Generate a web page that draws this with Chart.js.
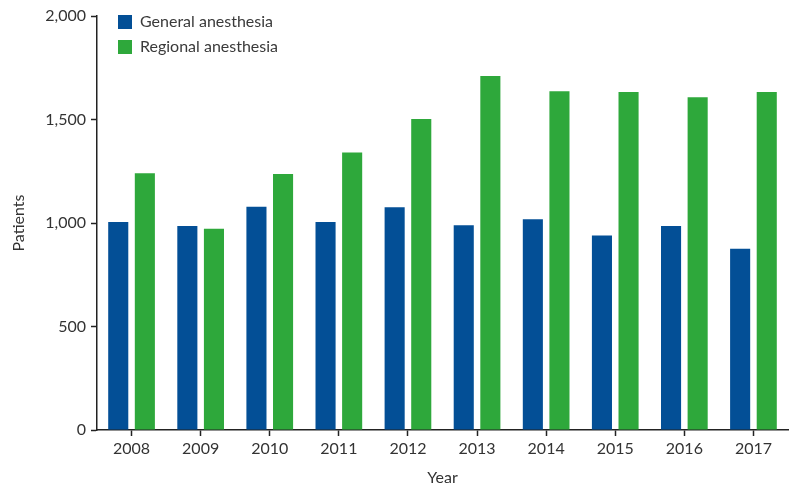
<!DOCTYPE html>
<html>
<head>
<meta charset="utf-8">
<script src="https://cdn.jsdelivr.net/npm/chart.js@4"></script>
<style>
  html, body { margin: 0; padding: 0; background: #fff; }
  #wrap { width: 800px; height: 492px; }
</style>
</head>
<body>
<div id="wrap"><canvas id="chart"></canvas></div>
<script>
const years = ["2008", "2009", "2010", "2011", "2012", "2013", "2014", "2015", "2016", "2017"];
const generalAnesthesia = [1005, 985, 1079, 1005, 1076, 989, 1018, 940, 985, 876];
const regionalAnesthesia = [1240, 972, 1237, 1340, 1502, 1710, 1636, 1633, 1607, 1633];

const FONT = "Lato, 'Noto Sans', sans-serif";
const INK = "#333";

// nudge the in-plot legend to where the original sits
const legendNudge = {
  id: "legendNudge",
  afterLayout(chart) {
    const lg = chart.legend;
    if (!lg) return;
    lg.left += 12; lg.right += 12;
    lg.top += 5; lg.bottom += 5;
  }
};

new Chart(document.getElementById("chart"), {
  type: "bar",
  data: {
    labels: years,
    datasets: [
      { label: "General anesthesia", data: generalAnesthesia, backgroundColor: "#034f96" },
      { label: "Regional anesthesia", data: regionalAnesthesia, backgroundColor: "#2ea83b" }
    ]
  },
  options: {
    responsive: true,
    maintainAspectRatio: false,
    animation: false,
    datasets: { bar: { categoryPercentage: 0.77, barPercentage: 0.755 } },
    layout: { padding: { top: 16, right: 12, left: 0, bottom: 0 } },
    plugins: {
      tooltip: { enabled: false },
      legend: {
        position: "chartArea",
        align: "start",
        labels: {
          boxWidth: 14, boxHeight: 14, padding: 9,
          color: "#3a3a3a",
          font: { family: FONT, size: 16 }
        }
      }
    },
    scales: {
      x: {
        afterFit(s) { s.height = 62; },
        grid: { offset: false, drawOnChartArea: false, tickLength: 6, color: "#222", tickWidth: 1.5 },
        border: { color: "#222", width: 1.5 },
        ticks: { color: INK, padding: 3, font: { family: FONT, size: 16 } },
        title: { display: true, text: "Year", color: INK, padding: { top: 6, bottom: 5 },
                 font: { family: FONT, size: 16 } }
      },
      y: {
        min: 0, max: 2000,
        afterFit(s) { s.width = 97; },
        grid: { drawOnChartArea: false, tickLength: 6, color: "#222", tickWidth: 1.5 },
        border: { color: "#222", width: 1.5 },
        ticks: { stepSize: 500, color: INK, padding: 5, font: { family: FONT, size: 16 } },
        title: { display: true, text: "Patients", color: INK, padding: { top: 9, bottom: 0 },
                 font: { family: FONT, size: 16 } }
      }
    }
  },
  plugins: [legendNudge]
});
</script>
</body>
</html>
